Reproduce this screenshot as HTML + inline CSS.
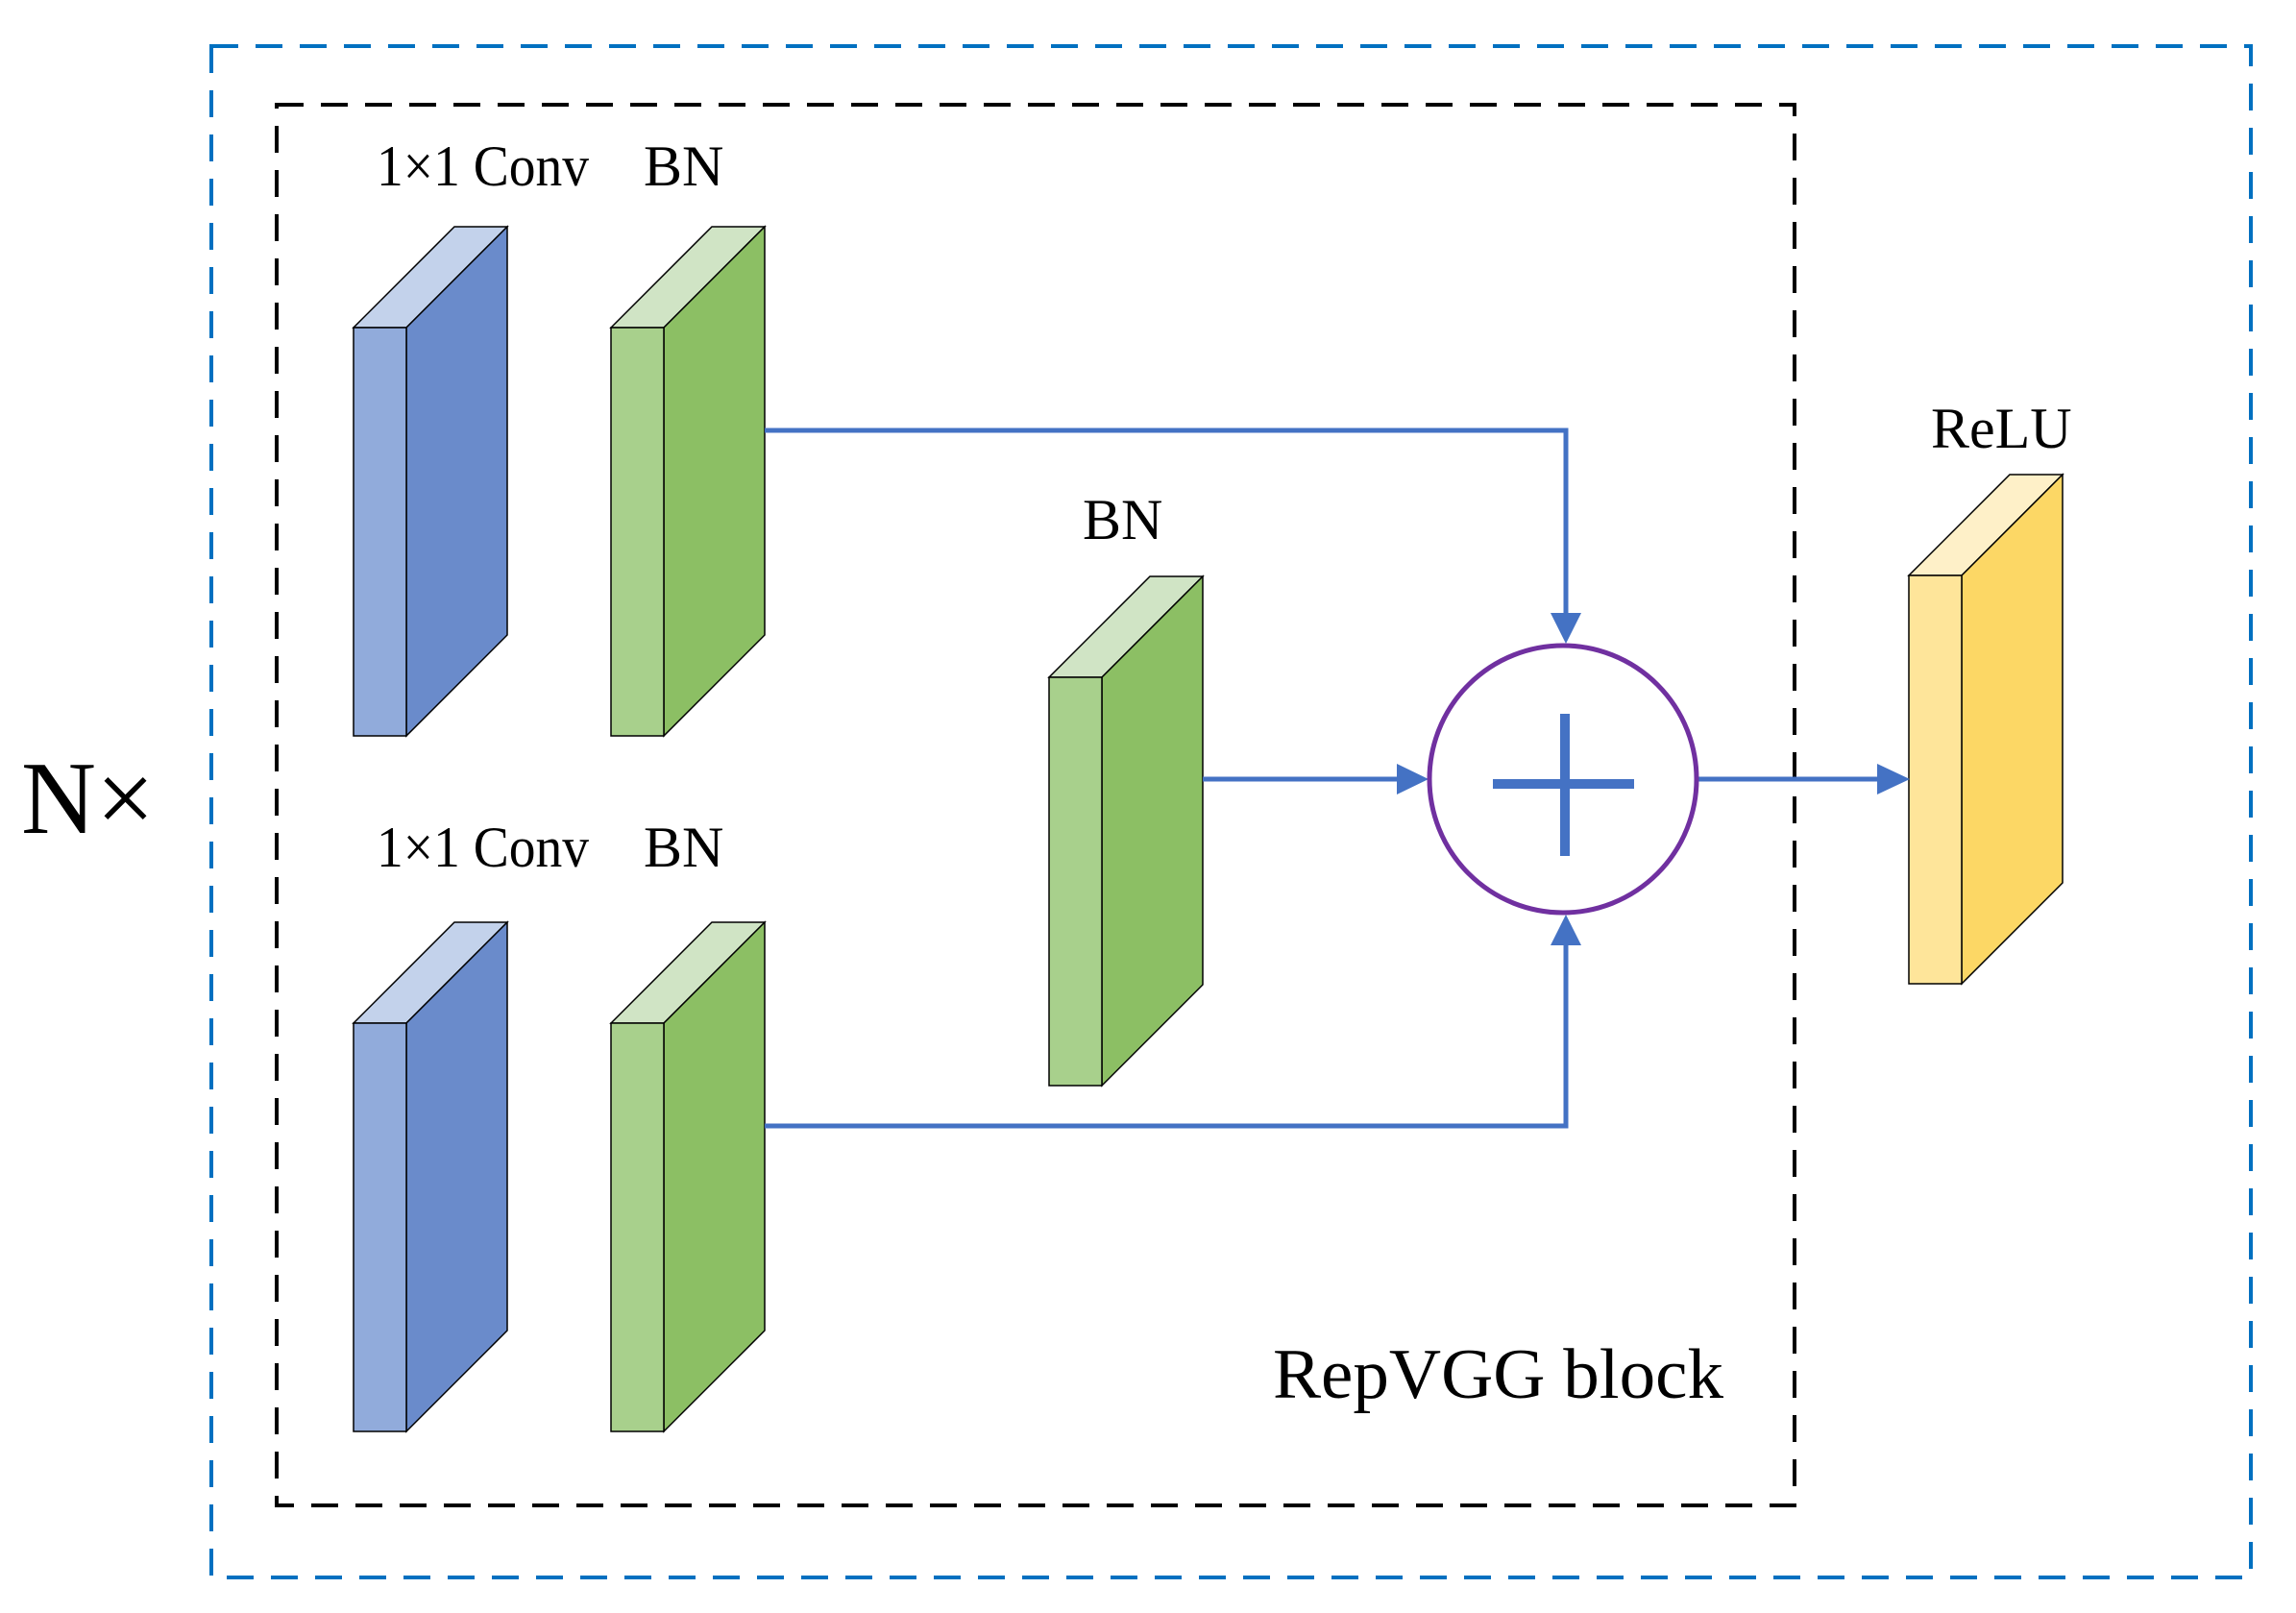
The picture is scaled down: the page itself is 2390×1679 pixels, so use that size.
<!DOCTYPE html>
<html><head><meta charset="utf-8"><style>html,body{margin:0;padding:0;background:#fff}svg{display:block}</style></head>
<body>
<svg width="2390" height="1679" viewBox="0 0 2390 1679" xmlns="http://www.w3.org/2000/svg" font-family="'Liberation Serif', serif">
<rect x="220" y="48" width="2123" height="1594" fill="none" stroke="#0070C0" stroke-width="4" stroke-dasharray="28,18"/>
<rect x="288" y="109" width="1580" height="1458" fill="none" stroke="#000" stroke-width="4" stroke-dasharray="28,18"/>
<defs>
<g id="blue">
<polygon points="0,105 55,105 160,0 105,0" fill="#C3D2EB" stroke="#000" stroke-width="1.5"/>
<polygon points="55,105 160,0 160,425 55,530" fill="#6A8BCB" stroke="#000" stroke-width="1.5"/>
<rect x="0" y="105" width="55" height="425" fill="#91ABDB" stroke="#000" stroke-width="1.5"/>
</g>
<g id="green">
<polygon points="0,105 55,105 160,0 105,0" fill="#D0E4C5" stroke="#000" stroke-width="1.5"/>
<polygon points="55,105 160,0 160,425 55,530" fill="#8CBF64" stroke="#000" stroke-width="1.5"/>
<rect x="0" y="105" width="55" height="425" fill="#A8D08C" stroke="#000" stroke-width="1.5"/>
</g>
<g id="yellow">
<polygon points="0,105 55,105 160,0 105,0" fill="#FEF0C8" stroke="#000" stroke-width="1.5"/>
<polygon points="55,105 160,0 160,425 55,530" fill="#FCD765" stroke="#000" stroke-width="1.5"/>
<rect x="0" y="105" width="55" height="425" fill="#FEE59A" stroke="#000" stroke-width="1.5"/>
</g>
</defs>
<use href="#blue" x="368" y="236"/>
<use href="#green" x="636" y="236"/>
<use href="#blue" x="368" y="960"/>
<use href="#green" x="636" y="960"/>
<use href="#green" x="1092" y="600"/>
<use href="#yellow" x="1987" y="494"/>
<g stroke="#4472C4" stroke-width="5" fill="none">
<polyline points="796,448 1630,448 1630,640"/>
<polyline points="796,1172 1630,1172 1630,982"/>
<line x1="1252" y1="811" x2="1456" y2="811"/>
<line x1="1768" y1="811" x2="1956" y2="811"/>
</g>
<g fill="#4472C4">
<polygon points="1614,638 1646,638 1630,670"/>
<polygon points="1614,984 1646,984 1630,952"/>
<polygon points="1454,795 1454,827 1487,811"/>
<polygon points="1954,795 1954,827 1988,811"/>
<rect x="1554" y="811" width="147" height="10"/>
<rect x="1624" y="743" width="10" height="148"/>
</g>
<circle cx="1627" cy="811" r="139" fill="none" stroke="#7030A0" stroke-width="5"/>
<g font-size="60" fill="#000">
<text x="392" y="193" textLength="221" lengthAdjust="spacingAndGlyphs">1×1 Conv</text>
<text x="670" y="193">BN</text>
<text x="392" y="902" textLength="221" lengthAdjust="spacingAndGlyphs">1×1 Conv</text>
<text x="670" y="902">BN</text>
<text x="1127" y="561">BN</text>
<text x="2010" y="466">ReLU</text>
<text x="1325" y="1455" font-size="74" textLength="469" lengthAdjust="spacingAndGlyphs">RepVGG block</text>
<text x="22" y="867" font-size="108">N×</text>
</g>
</svg>
</body></html>
